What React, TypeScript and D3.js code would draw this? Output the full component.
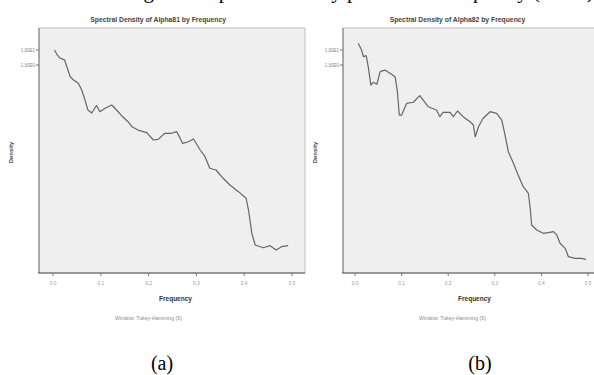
import React from "react";
import * as d3 from "d3";

// frequency / density readings, panel (a) Alpha81
const freqA = [0.003, 0.008, 0.015, 0.024, 0.029, 0.036, 0.043, 0.053, 0.060, 0.067, 0.073, 0.081, 0.091, 0.098,
  0.109, 0.123, 0.133, 0.144, 0.157, 0.165, 0.178, 0.196, 0.210, 0.220, 0.234, 0.248, 0.259, 0.271, 0.283, 0.294,
  0.308, 0.318, 0.328, 0.341, 0.356, 0.370, 0.388, 0.404, 0.409, 0.416, 0.423, 0.440, 0.454, 0.467, 0.478, 0.492];
const densA = [10, 5.2, 2.8, 2.2, 0.77, 0.166, 0.1, 0.06, 0.0215, 4.6e-3, 1e-3, 6.3e-4, 2e-3, 7.7e-4,
  1.3e-3, 2.15e-3, 1e-3, 4e-4, 1.66e-4, 7.7e-5, 4.6e-5, 3.1e-5, 1e-5, 1.1e-5, 2.8e-5, 2.8e-5, 3.6e-5, 6e-6, 7.7e-6, 1.17e-5,
  2.15e-6, 7.7e-7, 1.3e-7, 1e-7, 2.8e-8, 1e-8, 3.6e-9, 1.3e-9, 2.15e-10, 6e-12, 1e-12, 6.6e-13, 9e-13, 4.6e-13, 7.7e-13, 9e-13];

// panel (b) Alpha82
const freqB = [0.007, 0.014, 0.018, 0.024, 0.029, 0.034, 0.039, 0.047, 0.054, 0.064, 0.075, 0.086, 0.091, 0.095,
  0.100, 0.111, 0.125, 0.139, 0.157, 0.175, 0.182, 0.189, 0.204, 0.211, 0.220, 0.232, 0.247, 0.254, 0.258, 0.265,
  0.275, 0.290, 0.304, 0.315, 0.322, 0.329, 0.340, 0.350, 0.361, 0.372, 0.376, 0.379, 0.390, 0.404, 0.415, 0.426,
  0.433, 0.440, 0.451, 0.458, 0.472, 0.486, 0.496];
const densB = [28, 10, 3.6, 4.2, 0.6, 0.046, 0.07, 0.052, 0.36, 0.46, 0.28, 0.166, 0.0166, 4.6e-4,
  4.6e-4, 2.8e-3, 3.3e-3, 9e-3, 1.66e-3, 1e-3, 3.6e-4, 7e-4, 7e-4, 3.6e-4, 8.6e-4, 3.6e-4, 1.66e-4, 1e-4, 1.66e-5, 7.7e-5,
  2.8e-4, 7.7e-4, 6e-4, 2.15e-4, 2.15e-5, 1.66e-6, 2.8e-7, 4.6e-8, 7.7e-9, 2.8e-9, 2.8e-10, 2.15e-11, 1e-11, 6e-12, 6.6e-12, 7.7e-12,
  4.6e-12, 1.3e-12, 6e-13, 1.66e-13, 1.3e-13, 1.3e-13, 1.1e-13];

const xTicks = [0, 0.1, 0.2, 0.3, 0.4, 0.5];
const yTicks = [10, 1];
const yTickLabels = ["1.00E1", "1.00E0"];

const TOP = 28;
const BOTTOM = 273;
const sans = "Liberation Sans, Arial, sans-serif";
const serif = "Liberation Serif, Times New Roman, serif";

type PanelProps = {
  left: number; right: number; x0: number; x5: number; capX: number;
  title: string; freq: number[]; dens: number[]; caption: string;
};

function Panel({ left, right, x0, x5, capX, title, freq, dens, caption }: PanelProps) {
  const x = d3.scaleLinear().domain([0, 0.5]).range([x0, x5]);
  const y = d3.scaleLog().domain([1.36e-14, 293]).range([BOTTOM, TOP]);
  const pts: [number, number][] = freq.map((f, i) => [f, dens[i]]);
  const line = d3.line<[number, number]>().x(d => x(d[0])).y(d => y(d[1]));
  return (
    <g>
      <text x={x(0.22)} y={22} textAnchor="middle" fontFamily={sans} fontSize={6.8} fontWeight="bold" fill="#444">{title}</text>
      <rect x={left} y={TOP} width={right - left} height={BOTTOM - TOP} fill="#efefef" stroke="#b5b5b5" strokeWidth={0.8} />
      <line x1={left} x2={left} y1={TOP} y2={BOTTOM} stroke="#777" strokeWidth={1} />
      <line x1={left - 1} x2={right} y1={BOTTOM} y2={BOTTOM} stroke="#555" strokeWidth={1.2} />
      {yTicks.map((t, i) => (
        <g key={t}>
          <line x1={left - 3} x2={left} y1={y(t)} y2={y(t)} stroke="#777" />
          <text x={left - 4} y={y(t) + 1.8} textAnchor="end" fontFamily={sans} fontSize={4.5} fill="#888">{yTickLabels[i]}</text>
        </g>
      ))}
      {xTicks.map(t => (
        <g key={t}>
          <line x1={x(t)} x2={x(t)} y1={BOTTOM} y2={BOTTOM + 3} stroke="#777" />
          <text x={x(t)} y={BOTTOM + 11.5} textAnchor="middle" fontFamily={sans} fontSize={4.8} fill="#999">{d3.format(".1f")(t)}</text>
        </g>
      ))}
      <path d={line(pts) ?? ""} fill="none" stroke="#666" strokeWidth={1.2} strokeLinejoin="round" />
      <text transform={`translate(${left - 26},${(TOP + BOTTOM) / 2 + 2}) rotate(-90)`} textAnchor="middle"
        fontFamily={sans} fontSize={6} fontWeight="bold" fill="#444">Density</text>
      <text x={x(0.25) + 3} y={301} textAnchor="middle" fontFamily={sans} fontSize={6.5} fontWeight="bold" fill="#333">Frequency</text>
      <text x={left + 76} y={320} fontFamily={sans} fontSize={5.2} fill="#888">Window: Tukey-Hamming (5)</text>
      <text x={capX} y={370} textAnchor="middle" fontFamily={serif} fontSize={20} fill="#000">{caption}</text>
    </g>
  );
}

export default function App() {
  return (
    <svg width={594} height={375} style={{ position: "absolute", left: 0, top: 0, background: "#fff" }}>
      <text x={126} y={-2} fontFamily={serif} fontSize={21} fill="#000">
        Figure 3. Spectral density plot versus frequency (SPSS)
      </text>
      <Panel left={39} right={305} x0={53} x5={292} capX={162} title="Spectral Density of Alpha81 by Frequency"
        freq={freqA} dens={densA} caption="(a)" />
      <Panel left={343} right={600} x0={355} x5={588} capX={480} title="Spectral Density of Alpha82 by Frequency"
        freq={freqB} dens={densB} caption="(b)" />
    </svg>
  );
}
